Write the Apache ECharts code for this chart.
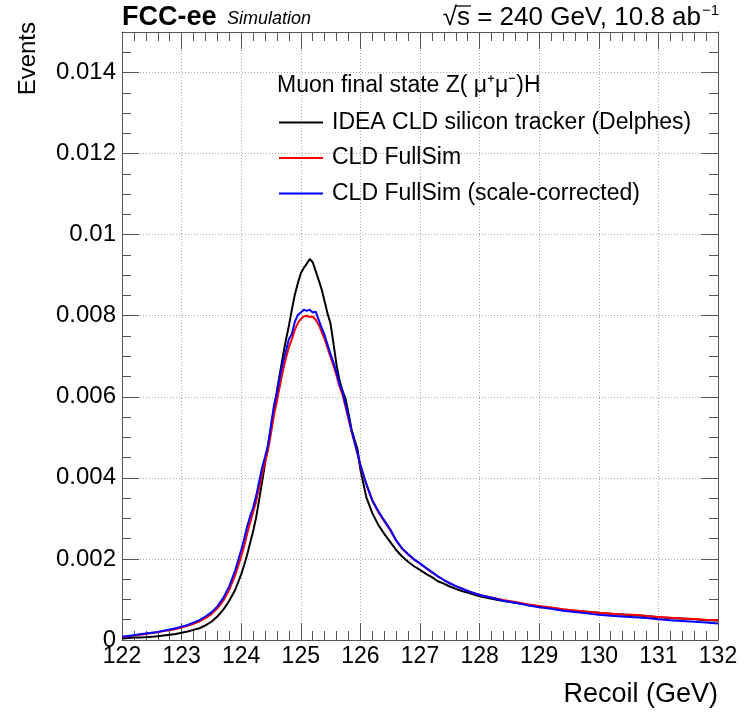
<!DOCTYPE html>
<html>
<head>
<meta charset="utf-8">
<script src="https://cdn.jsdelivr.net/npm/echarts@6/dist/echarts.min.js"></script>
<style>
html,body{margin:0;padding:0;background:#fff;}
#c{width:752px;height:712px;}
</style>
</head>
<body>
<div id="c"></div>
<script>
// Recoil mass bin positions (GeV)
const recoil = [
122.0,122.1,122.2,122.3,122.4,122.5,122.6,122.7,122.8,122.9,
123.0,123.1,123.2,123.3,123.4,123.5,123.6,123.7,123.8,123.9,
124.0,124.05,124.1,124.15,124.2,124.25,124.3,124.35,124.4,124.45,
124.5,124.55,124.6,124.65,124.7,124.75,124.8,124.85,124.9,124.95,
125.0,125.05,125.1,125.15,125.2,125.25,125.3,125.35,125.4,125.45,
125.5,125.55,125.6,125.65,125.7,125.75,125.8,125.85,125.9,125.95,
126.0,126.1,126.2,126.3,126.4,126.5,126.6,126.7,126.8,126.9,
127.0,127.1,127.2,127.3,127.4,127.5,127.6,127.7,127.8,127.9,
128.0,128.2,128.4,128.6,128.8,129.0,129.2,129.4,129.6,129.8,
130.0,130.2,130.4,130.6,130.8,131.0,131.2,131.4,131.6,131.8,132.0
];
// IDEA CLD silicon tracker (Delphes)
const delphes = [
0.00004,0.00005,0.00006,0.00006,0.00007,0.00008,0.00009,0.00011,0.00013,0.00015,
0.00018,0.00021,0.00025,0.00029,0.00036,0.00045,0.00058,0.00075,0.00097,0.00124,
0.00162,0.00185,0.00210,0.00240,0.00268,0.00302,0.00345,0.00390,0.00435,0.00480,
0.00525,0.00572,0.00615,0.00658,0.00700,0.00740,0.00775,0.00815,0.00852,0.00880,
0.00905,0.00918,0.00928,0.00940,0.00932,0.00910,0.00888,0.00865,0.00835,0.00805,
0.00780,0.00730,0.00678,0.00640,0.00615,0.00595,0.00560,0.00520,0.00495,0.00472,
0.00420,0.00352,0.00313,0.00284,0.00262,0.00242,0.00222,0.00206,0.00193,0.00182,
0.00173,0.00163,0.00155,0.00145,0.00139,0.00132,0.00126,0.00121,0.00117,0.00112,
0.00108,0.00102,0.00096,0.00092,0.00087,0.00082,0.00079,0.00075,0.00072,0.00070,
0.00067,0.00065,0.00063,0.00061,0.00059,0.00056,0.00054,0.00053,0.00051,0.00049,0.00048
];
// CLD FullSim
const fullsim = [
0.00007,0.00009,0.00011,0.00013,0.00015,0.00017,0.00019,0.00022,0.00024,0.00027,
0.00031,0.00035,0.00040,0.00046,0.00054,0.00064,0.00078,0.00097,0.00124,0.00160,
0.00206,0.00232,0.00262,0.00290,0.00315,0.00342,0.00375,0.00408,0.00440,0.00468,
0.00510,0.00555,0.00590,0.00628,0.00665,0.00695,0.00722,0.00742,0.00765,0.00782,
0.00792,0.00798,0.00800,0.00797,0.00798,0.00790,0.00778,0.00760,0.00742,0.00720,
0.00698,0.00676,0.00652,0.00625,0.00605,0.00576,0.00545,0.00515,0.00487,0.00460,
0.00430,0.00383,0.00343,0.00316,0.00293,0.00271,0.00245,0.00225,0.00211,0.00198,
0.00188,0.00177,0.00167,0.00157,0.00148,0.00140,0.00133,0.00127,0.00121,0.00116,
0.00111,0.00105,0.00099,0.00094,0.00088,0.00084,0.00080,0.00076,0.00073,0.00070,
0.00067,0.00065,0.00063,0.00062,0.00059,0.00057,0.00055,0.00053,0.00052,0.00050,0.00049
];
// CLD FullSim (scale-corrected)
const corrected = [
0.00008,0.00010,0.00012,0.00014,0.00016,0.00018,0.00020,0.00023,0.00026,0.00029,
0.00033,0.00037,0.00043,0.00049,0.00058,0.00068,0.00083,0.00104,0.00133,0.00172,
0.00222,0.00250,0.00280,0.00305,0.00327,0.00355,0.00390,0.00425,0.00452,0.00480,
0.00530,0.00578,0.00610,0.00650,0.00685,0.00712,0.00742,0.00755,0.00785,0.00802,
0.00808,0.00815,0.00812,0.00815,0.00808,0.00810,0.00790,0.00770,0.00752,0.00728,
0.00705,0.00683,0.00660,0.00630,0.00612,0.00582,0.00550,0.00519,0.00490,0.00462,
0.00432,0.00385,0.00345,0.00318,0.00295,0.00273,0.00246,0.00226,0.00212,0.00199,
0.00189,0.00178,0.00168,0.00157,0.00148,0.00140,0.00133,0.00127,0.00121,0.00116,
0.00111,0.00104,0.00097,0.00092,0.00086,0.00081,0.00077,0.00072,0.00069,0.00066,
0.00062,0.00060,0.00058,0.00056,0.00054,0.00051,0.00049,0.00047,0.00045,0.00043,0.00041
];
const seriesNames = ['IDEA CLD silicon tracker (Delphes)', 'CLD FullSim', 'CLD FullSim (scale-corrected)'];
const seriesColors = ['#000000', '#ff0000', '#0000ff'];
const seriesValues = [delphes, fullsim, corrected];

const FONT = '"Liberation Sans", Arial, Helvetica, sans-serif';
const chart = echarts.init(document.getElementById('c'), null, {renderer: 'canvas'});

// measure header pieces so the sqrt overline sits over the "s"
const HDR = 26;
const mctx = document.createElement('canvas').getContext('2d');
mctx.font = HDR + 'px ' + FONT;
const hdrMain = 's = 240 GeV, 10.8 ab';
const hdrRight = 701;
const wMain = mctx.measureText(hdrMain).width;
const wS = mctx.measureText('s').width;
const sx = hdrRight - wMain;

const axisColor = '#555';
function mkX(pos, labels) {
  return {
    type: 'value', position: pos, min: 122, max: 132, interval: 1,
    axisLine: {show: true, onZero: false, lineStyle: {color: axisColor, width: 1}},
    axisTick: {show: true, inside: true, length: 17, lineStyle: {color: axisColor}},
    minorTick: {show: true, splitNumber: 5, length: 9, lineStyle: {color: axisColor}},
    splitLine: {show: labels, lineStyle: {color: '#aaa', type: [1, 2], width: 1}},
    axisLabel: {show: labels, fontSize: 23, color: '#000', fontFamily: FONT, margin: 5},
  };
}
function mkY(pos, labels) {
  return {
    type: 'value', position: pos, min: 0, max: 0.015, interval: 0.002,
    axisLine: {show: true, onZero: false, lineStyle: {color: axisColor, width: 1}},
    axisTick: {show: true, inside: true, length: 17, lineStyle: {color: axisColor}},
    minorTick: {show: true, splitNumber: 4, length: 9, lineStyle: {color: axisColor}},
    splitLine: {show: labels, lineStyle: {color: '#aaa', type: [1, 2], width: 1}},
    axisLabel: {show: labels, fontSize: 24, color: '#000', fontFamily: FONT, margin: 6,
      showMaxLabel: false,
      formatter: v => (v > 0.0145 ? '' : String(parseFloat(v.toFixed(4))))},
  };
}

chart.setOption({
  animation: false,
  backgroundColor: '#fff',
  grid: {left: 122, right: 34, top: 32, bottom: 72, containLabel: false},
  xAxis: [mkX('bottom', true), mkX('top', false)],
  yAxis: [mkY('left', true), mkY('right', false)],
  legend: {
    orient: 'vertical', left: 279, top: 111, itemGap: 12.5, padding: 0,
    itemWidth: 44, itemHeight: 2, icon: 'rect',
    textStyle: {fontSize: 23, color: '#000', fontFamily: FONT, padding: [0, 0, 0, 4]},
    data: seriesNames
  },
  series: seriesValues.map((vals, i) => ({
    name: seriesNames[i], type: 'line', showSymbol: false, symbol: 'none',
    xAxisIndex: 0, yAxisIndex: 0,
    lineStyle: {color: seriesColors[i], width: 2},
    itemStyle: {color: seriesColors[i]},
    data: recoil.map((x, k) => [x, vals[k]]),
    z: 2 + i
  })),
  graphic: [
    {type: 'text', left: 122, top: 4, style: {text: 'FCC-ee', fontSize: 27, fontWeight: 'bold', fontFamily: FONT, fill: '#000'}},
    {type: 'text', left: 227, top: 10, style: {text: 'Simulation', fontSize: 18, fontStyle: 'italic', fontFamily: FONT, fill: '#000'}},
    {type: 'text', x: hdrRight, y: 31, style: {text: hdrMain, fontSize: HDR, fontFamily: FONT, fill: '#000', textAlign: 'right', textVerticalAlign: 'bottom'}},
    {type: 'text', x: sx, y: 31, style: {text: '\u221A', fontSize: HDR, fontFamily: FONT, fill: '#000', textAlign: 'right', textVerticalAlign: 'bottom'}},
    {type: 'line', shape: {x1: sx - 1, y1: 6, x2: sx + wS + 1, y2: 6}, style: {stroke: '#000', lineWidth: 1.3}},
    {type: 'text', x: 702, y: 3, style: {text: '\u22121', fontSize: 15, fontFamily: FONT, fill: '#000', textAlign: 'left', textVerticalAlign: 'top'}},
    {type: 'text', x: 28, y: 22, rotation: Math.PI / 2, style: {text: 'Events', fontSize: 24, fontFamily: FONT, fill: '#000', textAlign: 'right', textVerticalAlign: 'middle'}},
    {type: 'text', x: 718, y: 695, style: {text: 'Recoil (GeV)', fontSize: 27, fontFamily: FONT, fill: '#000', textAlign: 'right', textVerticalAlign: 'middle'}},
    {type: 'text', x: 277, y: 86, style: {text: 'Muon final state Z( \u03BC\u207A\u03BC\u207B)H', fontSize: 23, fontFamily: FONT, fill: '#000', textAlign: 'left', textVerticalAlign: 'middle'}}
  ]
});
</script>
</body>
</html>
